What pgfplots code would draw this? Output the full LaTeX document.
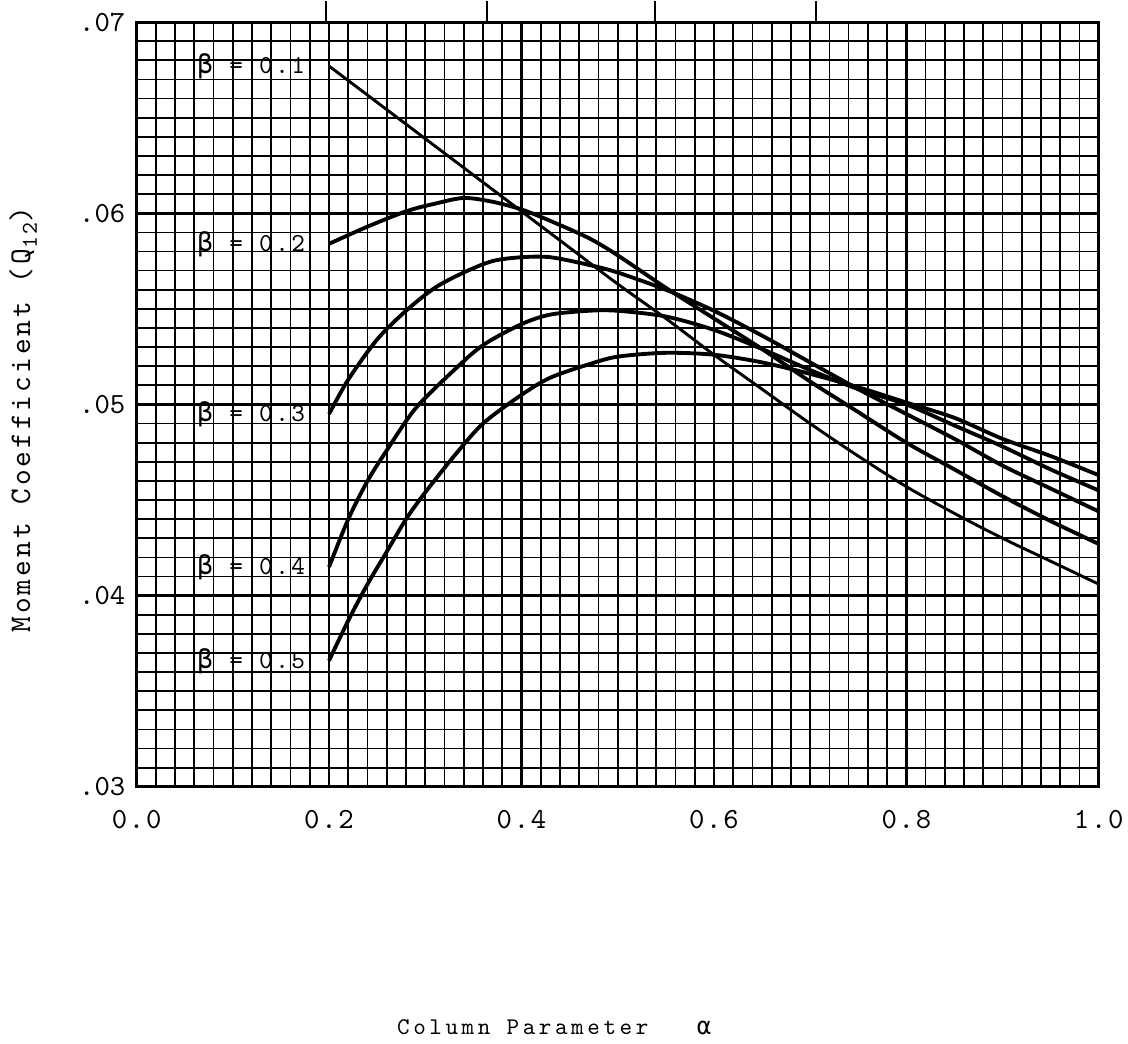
\documentclass[border=0pt]{standalone}
\usepackage{fontspec}
\usepackage{pgfplots}
\pgfplotsset{compat=1.18}
\newfontfamily\grk{DejaVu Sans Mono}
\newfontfamily\ttA{lmmono10-regular.otf}
\newfontfamily\ttB[LetterSpace=6]{lmmono10-regular.otf}
\newfontfamily\ttC[LetterSpace=10]{lmmono10-regular.otf}
\newfontfamily\ttD[LetterSpace=15]{lmmono10-regular.otf}

\pgfplotstableread{
x y
0.20 0.0677
0.25 0.0658
0.30 0.0639
0.35 0.0620
0.40 0.0601
0.45 0.0582
0.50 0.0563
0.55 0.0545
0.60 0.0526
0.65 0.0508
0.70 0.0490
0.75 0.0473
0.80 0.0457
0.85 0.0443
0.90 0.0430
0.95 0.0418
1.00 0.0406
}\bone
\pgfplotstableread{
x y
0.20 0.0584
0.24 0.0593
0.28 0.0601
0.31 0.0605
0.34 0.0608
0.37 0.0606
0.40 0.0602
0.43 0.0596
0.47 0.0587
0.50 0.0578
0.55 0.0561
0.60 0.0545
0.65 0.0529
0.70 0.0512
0.75 0.0496
0.80 0.0480
0.85 0.0466
0.90 0.0452
0.95 0.0439
1.00 0.0427
}\btwo
\pgfplotstableread{
x y
0.20 0.0495
0.22 0.0513
0.25 0.0534
0.28 0.0549
0.31 0.0561
0.34 0.0569
0.37 0.0575
0.40 0.0577
0.43 0.0577
0.47 0.0573
0.50 0.0569
0.55 0.0560
0.60 0.0549
0.65 0.0536
0.70 0.0522
0.75 0.0508
0.80 0.0495
0.85 0.0482
0.90 0.0468
0.95 0.0456
1.00 0.0444
}\bthree
\pgfplotstableread{
x y
0.20 0.0415
0.22 0.0440
0.24 0.0460
0.26 0.0476
0.29 0.0498
0.33 0.0518
0.36 0.0531
0.40 0.0542
0.43 0.0547
0.47 0.0549
0.50 0.0549
0.55 0.0546
0.60 0.0539
0.65 0.0529
0.70 0.0518
0.75 0.0508
0.80 0.0500
0.85 0.0489
0.90 0.0478
0.95 0.0466
1.00 0.0455
}\bfour
\pgfplotstableread{
x y
0.20 0.0366
0.22 0.0387
0.24 0.0406
0.26 0.0423
0.28 0.0440
0.30 0.0454
0.33 0.0473
0.36 0.0490
0.40 0.0505
0.43 0.0514
0.47 0.0521
0.50 0.0525
0.55 0.0527
0.60 0.0526
0.65 0.0522
0.70 0.0516
0.75 0.0509
0.80 0.0501
0.85 0.0493
0.90 0.0482
0.95 0.0473
1.00 0.0463
}\bfive

\newcommand\sz[1]{\fontsize{#1}{#1}\selectfont}
\tikzset{
  curve/.style={black, line width=2.9pt, smooth},
  blab/.style={font=\ttC\sz{19.5}, anchor=east},
}

\begin{document}
\begin{tikzpicture}
\begin{axis}[
  at={(0,0)},
  scale only axis, width=723.75pt, height=575.25pt,
  xmin=0, xmax=1, ymin=0.03, ymax=0.07,
  scaled y ticks=false, scaled x ticks=false,
  xtick={0,0.2,0.4,0.6,0.8,1},
  xticklabels={0.0,0.2,0.4,0.6,0.8,1.0},
  ytick={0.03,0.04,0.05,0.06,0.07},
  yticklabels={.03,.04,.05,.06,.07},
  minor x tick num=9, minor y tick num=9,
  grid=both,
  major grid style={black, line width=2pt},
  minor grid style={black, line width=1.3pt},
  major tick length=0pt, minor tick length=0pt,
  axis line style={black, line width=2.2pt},
  xticklabel style={font=\ttB\sz{22}, yshift=-14pt},
  yticklabel style={font=\ttA\sz{22}, xshift=-5pt},
  clip=false,
]
\addplot[curve, line width=2.2pt] table {\bone};
\addplot[curve] table {\btwo};
\addplot[curve] table {\bthree};
\addplot[curve] table {\bfour};
\addplot[curve] table {\bfive};

\node[blab] at (axis cs:0.18,0.0677) {{\grk β} = 0.1};
\node[blab] at (axis cs:0.18,0.0584) {{\grk β} = 0.2};
\node[blab] at (axis cs:0.18,0.0495) {{\grk β} = 0.3};
\node[blab] at (axis cs:0.18,0.0415) {{\grk β} = 0.4};
\node[blab] at (axis cs:0.18,0.0366) {{\grk β} = 0.5};

\node[font=\ttC\sz{22.5}, rotate=90] at (rel axis cs:-0.118,0.48)
  {Moment Coefficient (Q\raisebox{-5pt}{\sz{17}12})};
\node[font=\ttD\sz{18}] at (rel axis cs:0.434,-0.314) {Column Parameter~~~{\grk α}};

\path (rel axis cs:-0.14197,-0.33507) rectangle (rel axis cs:1.02694,1.02868);
\end{axis}
\begin{axis}[
  at={(0,0)},
  scale only axis, width=723.75pt, height=575.25pt,
  xmin=0, xmax=1, ymin=0.03, ymax=0.07,
  axis line style={draw=none},
  xtick={0.197,0.364,0.539,0.706}, xticklabels={},
  xticklabel pos=lower,
  ytick=\empty,
  xtick pos=upper, tick align=outside,
  major tick length=16pt,
  tick style={black, line width=1.2pt},
]
\end{axis}
\end{tikzpicture}
\end{document}
